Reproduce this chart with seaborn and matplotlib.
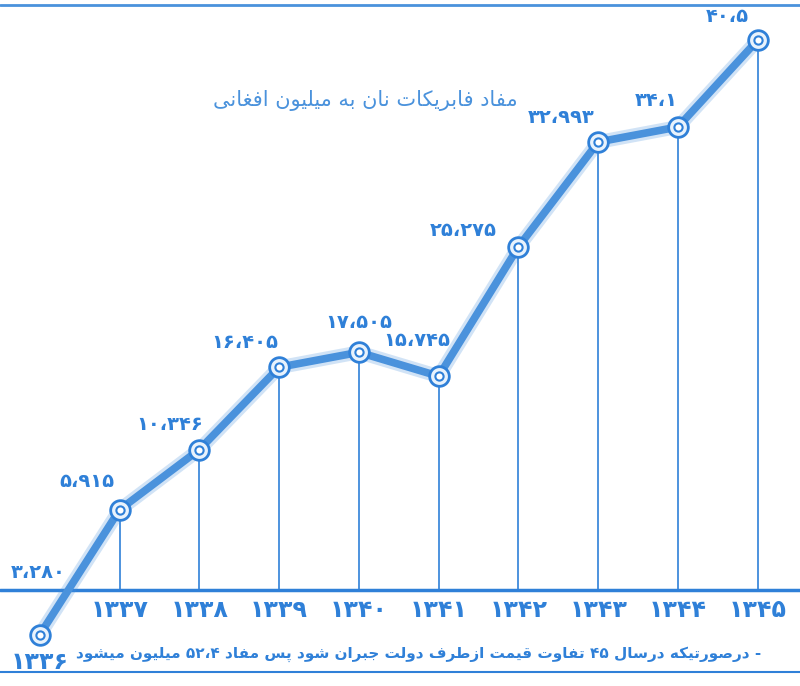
# -*- coding: utf-8 -*-
import re
import unicodedata
import numpy as np
import pandas as pd
import matplotlib
matplotlib.use('Agg')
import matplotlib.pyplot as plt
import seaborn as sns

# profit of bread factories, million afghani
years = [1336, 1337, 1338, 1339, 1340, 1341, 1342, 1343, 1344, 1345]
profit = [-3.280, 5.915, 10.346, 16.405, 17.505, 15.745, 25.275, 32.993, 34.1, 40.5]
value_labels = ['۳،۲۸۰', '۵،۹۱۵', '۱۰،۳۴۶', '۱۶،۴۰۵', '۱۷،۵۰۵', '۱۵،۷۴۵',
                '۲۵،۲۷۵', '۳۲،۹۹۳', '۳۴،۱', '۴۰،۵']
title_txt = 'مفاد فابریکات نان به میلیون افغانی'
note_txt = '- درصورتیکه درسال ۴۵ تفاوت قیمت ازطرف دولت جبران شود پس مفاد ۵۲،۴ میلیون میشود'

fa_digits = str.maketrans('0123456789', '۰۱۲۳۴۵۶۷۸۹')
year_labels = [str(y).translate(fa_digits) for y in years]

# label offsets in pixels (dx, dy) from each point
lab_off = [(-2, 62), (-33, 28), (-30, 25), (-34, 25), (0, 30), (-22, 36),
           (-55, 16), (-37, 24), (-22, 26), (-30, 24)]


def form(ch, f):
    try:
        return unicodedata.lookup(unicodedata.name(ch) + ' ' + f + ' FORM')
    except (KeyError, ValueError):
        return None


def shape(txt):
    # poor man's arabic shaping + rtl, matplotlib has no complex layout
    out = []
    for i, ch in enumerate(txt):
        prev = txt[i - 1] if i > 0 else ' '
        nxt = txt[i + 1] if i < len(txt) - 1 else ' '
        jp = form(prev, 'INITIAL') is not None and form(ch, 'FINAL') is not None
        jn = form(ch, 'INITIAL') is not None and form(nxt, 'FINAL') is not None
        if jp and jn:
            g = form(ch, 'MEDIAL')
        elif jp:
            g = form(ch, 'FINAL')
        elif jn:
            g = form(ch, 'INITIAL')
        else:
            g = form(ch, 'ISOLATED')
        out.append(g or ch)
    rev = ''.join(out)[::-1]
    return re.sub(r'[۰-۹]+(?:،[۰-۹]+)?', lambda m: m.group(0)[::-1], rev)


sns.set_style('white')
plt.rcParams['font.family'] = ['DejaVu Sans', 'Noto Sans']

blue = '#2f80d8'
line_blue = '#4a92dc'

df = pd.DataFrame({'year': years, 'profit': profit})

fig = plt.figure(figsize=(8, 6.86), dpi=100)
ax = fig.add_axes([0, 0, 1, 1])
ax.set_xlim(1335.5, 1345.53)
ax.set_ylim(-7.07, 43.45)

# thin drop lines from points to the base line
ax.vlines(df.year[1:], 0, df.profit[1:], color=blue, lw=1.2, zorder=1)
ax.axhline(0, color=blue, lw=2.5, zorder=1)

sns.lineplot(data=df, x='year', y='profit', ax=ax, color=line_blue, lw=10,
             alpha=0.25, zorder=2)
sns.lineplot(data=df, x='year', y='profit', ax=ax, color=line_blue, lw=5.5,
             zorder=3)
ax.scatter(df.year, df.profit, s=200, facecolor='#e8f2fc', edgecolor=blue,
           lw=2, zorder=4)
ax.scatter(df.year, df.profit, s=35, facecolor='white', edgecolor=blue,
           lw=1.5, zorder=5)

for x, y, lab, (dx, dy) in zip(years, profit, value_labels, lab_off):
    ax.annotate(lab, (x, y), xytext=(dx, dy), textcoords='offset pixels',
                ha='center', va='center', fontsize=14, fontweight='bold',
                color=blue)

for i, (x, lab) in enumerate(zip(years, year_labels)):
    dy = -72 if i == 0 else -20
    ax.annotate(lab, (x, 0), xytext=(0, dy), textcoords='offset pixels',
                ha='center', va='center', fontsize=17, fontweight='bold',
                color=blue)

ax.text(0.457, 0.853, shape(title_txt), transform=ax.transAxes, ha='center',
        va='center', fontsize=15, color=line_blue)
ax.text(0.523, 0.047, shape(note_txt), transform=ax.transAxes, ha='center',
        va='center', fontsize=11, fontweight='bold', color=blue)

# frame lines of the scanned sheet
ax.plot([0, 1], [0.993, 0.993], transform=ax.transAxes, color=line_blue, lw=2)
ax.plot([0, 1], [0.02, 0.02], transform=ax.transAxes, color=blue, lw=1.5)

ax.set_axis_off()
plt.savefig('out.png', dpi=100)
